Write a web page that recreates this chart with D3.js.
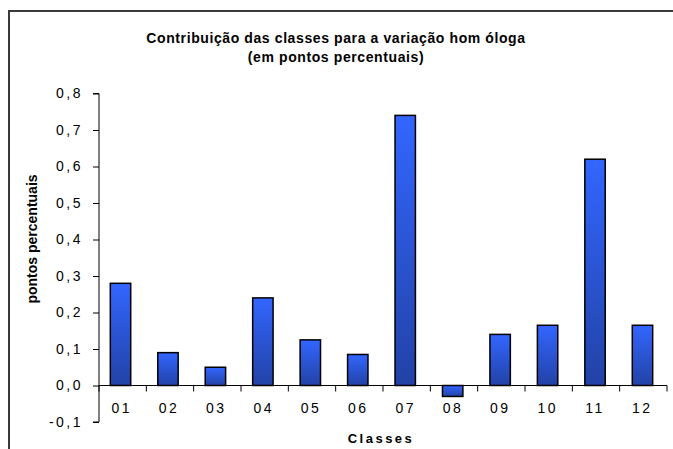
<!DOCTYPE html>
<html><head><meta charset="utf-8">
<script src="https://cdn.jsdelivr.net/npm/d3@7"></script>
<style>body{margin:0;background:#fff}svg{display:block}text{font-family:"Liberation Sans",Arial,sans-serif}</style>
</head><body>
<script>
const categories = ["01","02","03","04","05","06","07","08","09","10","11","12"];
const values = [0.28, 0.09, 0.05, 0.24, 0.125, 0.085, 0.74, -0.03, 0.14, 0.165, 0.62, 0.165];
const yTicks = [-0.1, 0, 0.1, 0.2, 0.3, 0.4, 0.5, 0.6, 0.7, 0.8];
const titleLines = ["Contribuição das classes para a variação hom óloga", "(em pontos percentuais)"];
const yLabel = "pontos percentuais";
const xLabel = "Classes";

const W = 673, H = 449;
const svg = d3.select("body").append("svg").attr("width", W).attr("height", H);

const defs = svg.append("defs");
const grad = defs.append("linearGradient").attr("id","g").attr("x1",0).attr("y1",0).attr("x2",0).attr("y2",1);
grad.append("stop").attr("offset","0%").attr("stop-color","#3366FF");
grad.append("stop").attr("offset","100%").attr("stop-color","#2242A6");

// frame
svg.append("rect").attr("x",9).attr("y",11).attr("width",W).attr("height",H)
  .attr("fill","#fff").attr("stroke","#3a3a3a").attr("stroke-width",2);

const x = d3.scaleBand().domain(categories).range([99, 667]).paddingInner(0.57).paddingOuter(0.27);
const y = d3.scaleLinear().domain([-0.1, 0.8]).range([422, 93.5]);

// title
svg.append("g").selectAll("text").data(titleLines).join("text")
  .attr("x", 336).attr("y",(d,i)=>43 + i*19).attr("text-anchor","middle")
  .attr("font-size",14).attr("font-weight","bold").attr("letter-spacing","0.6px").attr("fill","#000")
  .text(d=>d);

// bars
svg.append("g").selectAll("rect").data(values).join("rect")
  .attr("x",(d,i)=>x(categories[i]) - 1.5)
  .attr("width", x.bandwidth())
  .attr("y", d=> y(Math.max(0,d)))
  .attr("height", d=> Math.abs(y(d)-y(0)))
  .attr("fill","url(#g)").attr("stroke","#000").attr("stroke-width",1.5);

// y axis
const fmt = d => d3.format(".1f")(d).replace(".", ",").replace("−","-");
const yAxis = d3.axisLeft(y).tickValues(yTicks).tickSize(6).tickPadding(10).tickFormat(fmt);
const gy = svg.append("g").attr("transform","translate(99,0)").call(yAxis);
gy.select(".domain").attr("stroke","#000").attr("d","M-6,"+y(0.8)+"H0V"+y(-0.1)+"H-6");
gy.selectAll("text").attr("font-size",14).attr("letter-spacing","2.5px").attr("fill","#000").attr("font-family","Liberation Sans, Arial, sans-serif");
gy.selectAll("line").attr("stroke","#000");

// x axis at zero
const xb = d3.scaleBand().domain(categories).range([99,667]);
const xAxis = d3.axisBottom(xb).tickSize(0).tickPadding(18);
const gx = svg.append("g").attr("transform","translate(0,"+y(0)+")").call(xAxis);
gx.select(".domain").attr("stroke","#000").attr("d","M99,0H667");
gx.selectAll("text").attr("font-size",14).attr("letter-spacing","2.5px").attr("dx","-1px").attr("fill","#000").attr("font-family","Liberation Sans, Arial, sans-serif");
gx.append("g").selectAll("line").data(categories.concat(["end"])).join("line")
  .attr("x1",(d,i)=> 99 + i*xb.bandwidth()).attr("x2",(d,i)=> 99 + i*xb.bandwidth())
  .attr("y1",0).attr("y2",6).attr("stroke","#000");

// axis labels
svg.append("text").attr("x",381).attr("y",443).attr("text-anchor","middle")
  .attr("font-size",13).attr("font-weight","bold").attr("letter-spacing","2.5px").text(xLabel);
svg.append("text").attr("transform","translate(37,239) rotate(-90)").attr("text-anchor","middle")
  .attr("font-size",14).attr("font-weight","bold").text(yLabel);
</script>
</body></html>
